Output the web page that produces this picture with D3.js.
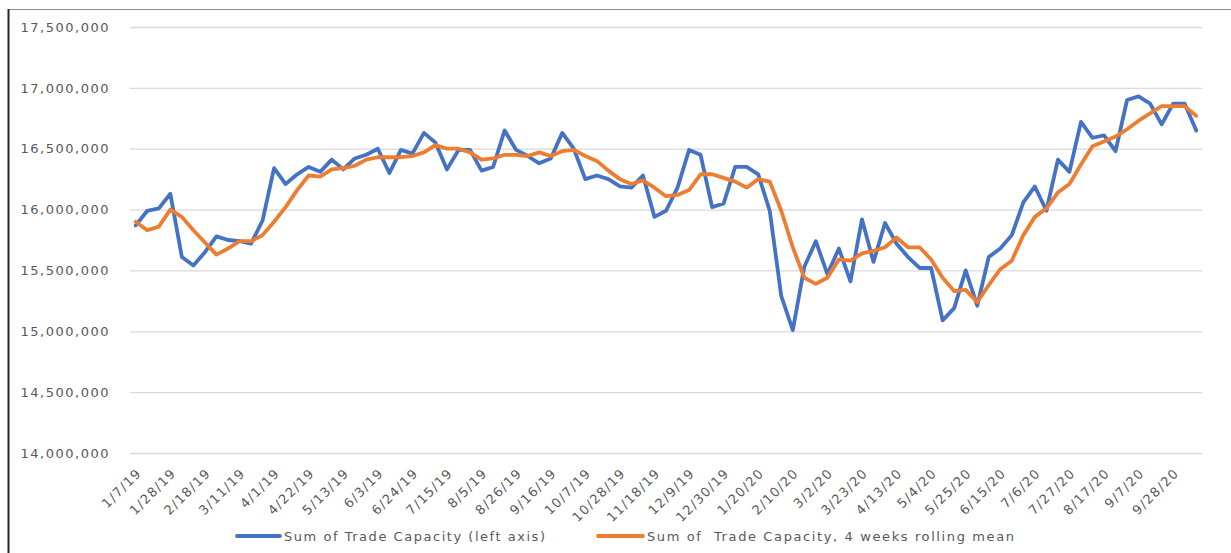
<!DOCTYPE html>
<html>
<head>
<meta charset="utf-8">
<script src="https://cdn.jsdelivr.net/npm/d3@7"></script>
<style>
  html, body { margin: 0; padding: 0; background: #fff; }
  svg { display: block; }
  text { font-family: "DejaVu Sans", sans-serif; fill: #595959; }
</style>
</head>
<body>
<svg id="chart" width="1231" height="553"></svg>
<script>
// ---- data ----
const dates = [
  "1/7/19","1/14/19","1/21/19","1/28/19","2/4/19","2/11/19","2/18/19","2/25/19","3/4/19","3/11/19",
  "3/18/19","3/25/19","4/1/19","4/8/19","4/15/19","4/22/19","4/29/19","5/6/19","5/13/19","5/20/19",
  "5/27/19","6/3/19","6/10/19","6/17/19","6/24/19","7/1/19","7/8/19","7/15/19","7/22/19","7/29/19",
  "8/5/19","8/12/19","8/19/19","8/26/19","9/2/19","9/9/19","9/16/19","9/23/19","9/30/19","10/7/19",
  "10/14/19","10/21/19","10/28/19","11/4/19","11/11/19","11/18/19","11/25/19","12/2/19","12/9/19","12/16/19",
  "12/23/19","12/30/19","1/6/20","1/13/20","1/20/20","1/27/20","2/3/20","2/10/20","2/17/20","2/24/20",
  "3/2/20","3/9/20","3/16/20","3/23/20","3/30/20","4/6/20","4/13/20","4/20/20","4/27/20","5/4/20",
  "5/11/20","5/18/20","5/25/20","6/1/20","6/8/20","6/15/20","6/22/20","6/29/20","7/6/20","7/13/20",
  "7/20/20","7/27/20","8/3/20","8/10/20","8/17/20","8/24/20","8/31/20","9/7/20","9/14/20","9/21/20",
  "9/28/20","10/5/20","10/12/20"
];

const tradeCapacity = [
  15870000,15990000,16010000,16130000,15610000,15540000,15650000,15780000,15750000,15740000,
  15720000,15910000,16340000,16210000,16290000,16350000,16310000,16410000,16330000,16420000,
  16450000,16500000,16300000,16490000,16460000,16630000,16550000,16330000,16490000,16490000,
  16320000,16350000,16650000,16490000,16440000,16380000,16420000,16630000,16500000,16250000,
  16280000,16250000,16190000,16180000,16280000,15940000,15990000,16180000,16490000,16450000,
  16020000,16050000,16350000,16350000,16290000,15990000,15290000,15010000,15530000,15740000,
  15470000,15680000,15410000,15920000,15570000,15890000,15720000,15610000,15520000,15520000,
  15090000,15190000,15500000,15210000,15610000,15680000,15790000,16060000,16190000,15990000,
  16410000,16310000,16720000,16590000,16610000,16480000,16900000,16930000,16870000,16700000,
  16870000,16870000,16650000
];

const rollingMean = [
  15900000,15830000,15860000,16000000,15940000,15830000,15730000,15630000,15680000,15740000,
  15740000,15790000,15900000,16020000,16160000,16280000,16270000,16330000,16340000,16360000,
  16410000,16430000,16430000,16430000,16440000,16470000,16530000,16500000,16500000,16470000,
  16410000,16420000,16450000,16450000,16440000,16470000,16440000,16480000,16490000,16440000,
  16400000,16320000,16250000,16210000,16240000,16180000,16110000,16120000,16160000,16290000,
  16290000,16260000,16230000,16180000,16250000,16230000,15990000,15690000,15440000,15390000,
  15440000,15590000,15580000,15640000,15660000,15690000,15770000,15690000,15690000,15590000,
  15440000,15330000,15340000,15240000,15380000,15510000,15580000,15790000,15940000,16010000,
  16140000,16210000,16370000,16520000,16560000,16600000,16660000,16730000,16790000,16850000,
  16850000,16850000,16770000
];

const xTickLabels = [
  "1/7/19","1/28/19","2/18/19","3/11/19","4/1/19","4/22/19","5/13/19","6/3/19","6/24/19","7/15/19",
  "8/5/19","8/26/19","9/16/19","10/7/19","10/28/19","11/18/19","12/9/19","12/30/19","1/20/20","2/10/20",
  "3/2/20","3/23/20","4/13/20","5/4/20","5/25/20","6/15/20","7/6/20","7/27/20","8/17/20","9/7/20","9/28/20"
];

const yTicks = [14000000,14500000,15000000,15500000,16000000,16500000,17000000,17500000];

const seriesNames = ["Sum of Trade Capacity (left axis)", "Sum of  Trade Capacity, 4 weeks rolling mean"];
const seriesColors = ["#4472C4", "#ED7D31"];

// ---- layout ----
const svg = d3.select("#chart");
const plotLeft = 130, plotRight = 1202, plotTop = 27, plotBottom = 453;

svg.append("rect").attr("width", 1231).attr("height", 553).attr("fill", "#fff");
// frame (cropped)
svg.append("line").attr("x1", 8).attr("x2", 1231).attr("y1", 9.5).attr("y2", 9.5)
  .attr("stroke", "#8c8c8c").attr("stroke-width", 1);
svg.append("line").attr("x1", 8.5).attr("x2", 8.5).attr("y1", 9).attr("y2", 553)
  .attr("stroke", "#262626").attr("stroke-width", 2);

const x = d3.scalePoint().domain(dates).range([plotLeft, plotRight]).padding(0.5);
const y = d3.scaleLinear().domain([14000000, 17500000]).range([plotBottom, plotTop]);

// gridlines
const grid = svg.append("g").attr("transform", `translate(${plotLeft},0)`)
  .call(d3.axisLeft(y).tickValues(yTicks).tickSize(-(plotRight - plotLeft)).tickFormat(""));
grid.select(".domain").remove();
grid.selectAll("line").attr("stroke", "#d9d9d9").attr("stroke-width", 1.3);

// y axis labels
const yAxis = svg.append("g").attr("transform", `translate(${plotLeft},0)`)
  .call(d3.axisLeft(y).tickValues(yTicks).tickSize(0).tickPadding(20).tickFormat(d3.format(",")));
yAxis.select(".domain").remove();
yAxis.selectAll("text")
  .style("font-family", '"DejaVu Sans", sans-serif')
  .style("font-size", "13px").style("letter-spacing", "1.5px").attr("fill", "#595959");

// x axis labels
const xAxis = svg.append("g").attr("transform", `translate(0,${plotBottom})`)
  .call(d3.axisBottom(x).tickValues(xTickLabels).tickSize(0).tickFormat(d => d));
xAxis.select(".domain").remove();
xAxis.selectAll(".tick text")
  .style("font-family", '"DejaVu Sans", sans-serif')
  .style("font-size", "13px").style("letter-spacing", "1.3px").attr("fill", "#595959")
  .attr("text-anchor", "end")
  .attr("x", 0).attr("y", 0).attr("dy", 0)
  .attr("transform", "translate(6,21) rotate(-45)");

// lines
const lineGen = d3.line().x((d, i) => x(dates[i])).y(d => y(d));
[tradeCapacity, rollingMean].forEach((s, k) => {
  svg.append("path").datum(s)
    .attr("d", lineGen)
    .attr("fill", "none")
    .attr("stroke", seriesColors[k])
    .attr("stroke-width", 3.8)
    .attr("stroke-linejoin", "round")
    .attr("stroke-linecap", "round");
});

// legend
const legendItems = [
  {x1: 237, x2: 280, tx: 284, len: 261},
  {x1: 598, x2: 643, tx: 647, len: 367}
];
const ly = 536;
legendItems.forEach((it, k) => {
  svg.append("line").attr("x1", it.x1).attr("x2", it.x2).attr("y1", ly).attr("y2", ly)
    .attr("stroke", seriesColors[k]).attr("stroke-width", 3.8).attr("stroke-linecap", "round");
  svg.append("text").attr("x", it.tx).attr("y", ly + 5)
    .style("font-size", "13px").style("white-space", "pre")
    .attr("textLength", it.len).attr("lengthAdjust", "spacing")
    .text(seriesNames[k]);
});
</script>
</body>
</html>
